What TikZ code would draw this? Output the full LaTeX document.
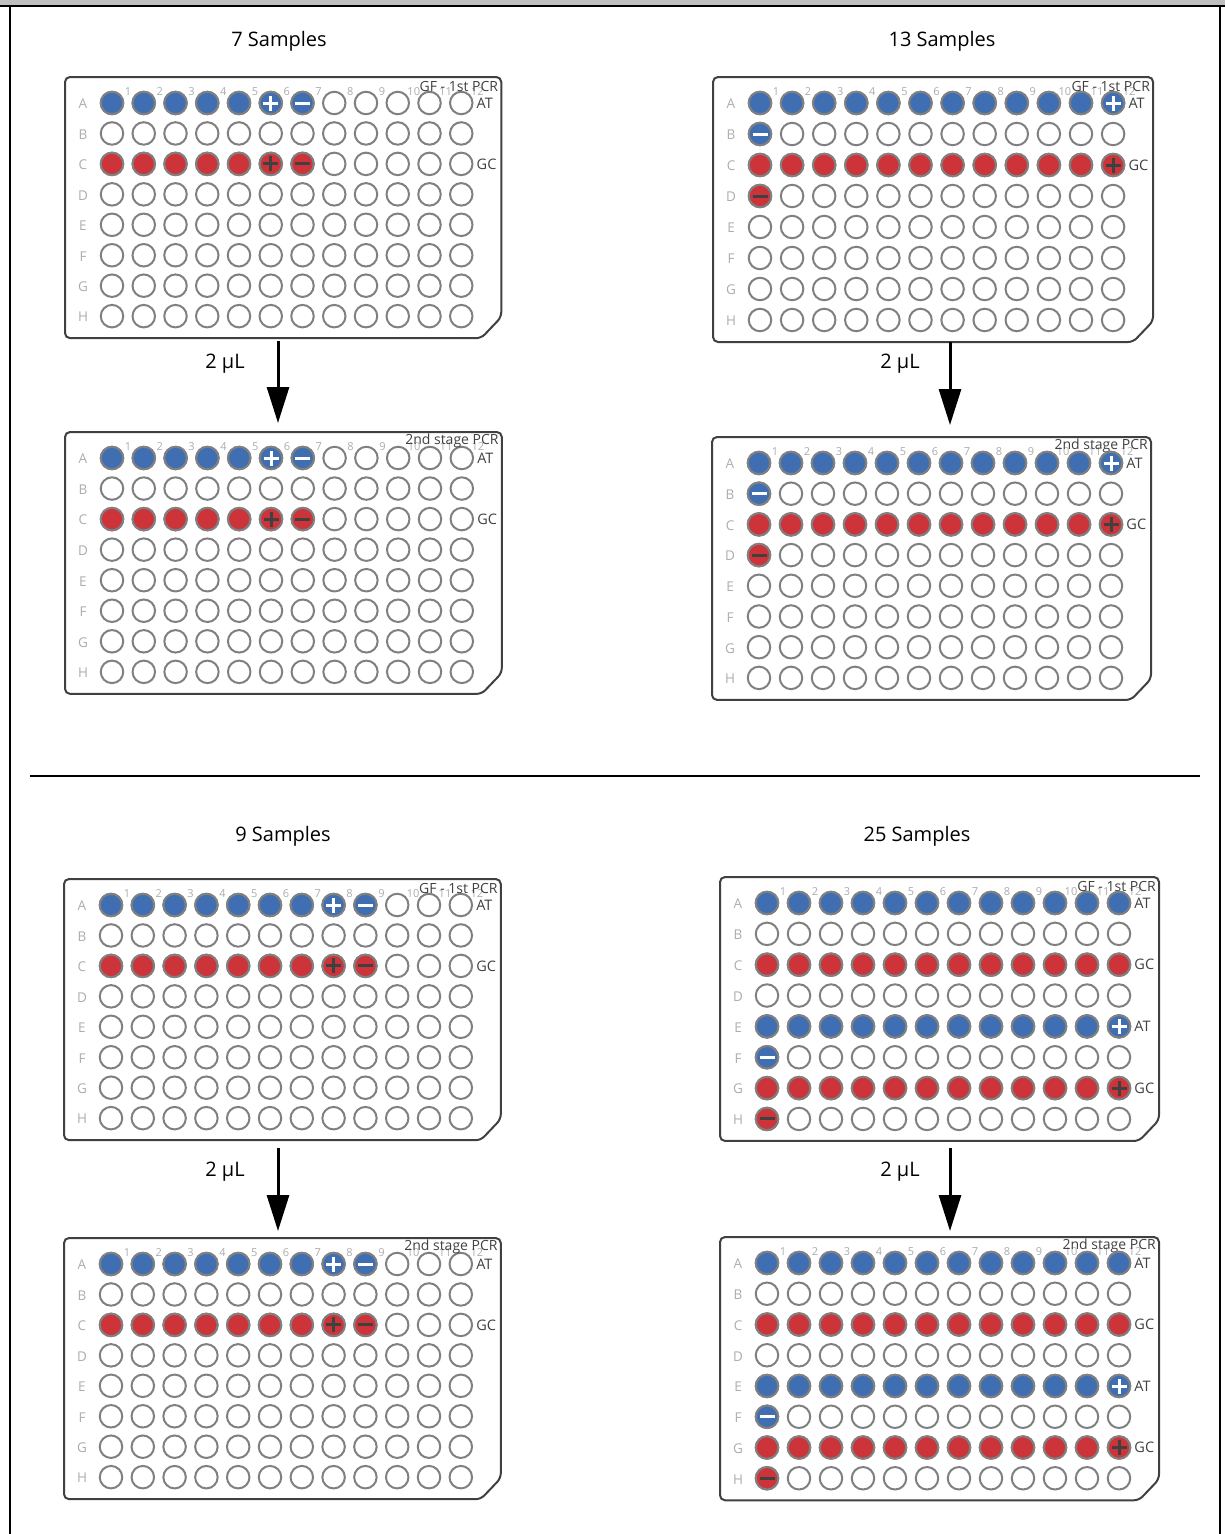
\documentclass[tikz,border=0pt]{standalone}
\usepackage{fontspec}
\setmainfont{Open Sans}
\usetikzlibrary{arrows.meta,positioning}
\definecolor{wellblue}{RGB}{64,110,178}
\definecolor{wellred}{RGB}{205,52,58}
\definecolor{wellrim}{RGB}{128,128,128}
\definecolor{platerim}{RGB}{64,64,64}
\definecolor{tagtext}{RGB}{172,172,172}
\definecolor{bandgray}{RGB}{191,191,191}

\tikzset{
  well/.style={circle, draw=wellrim, line width=2pt, fill=white, minimum size=22.5pt, inner sep=0pt},
  bluewell/.style={well, fill=wellblue},
  redwell/.style={well, fill=wellred},
  possign/.style={path picture={\draw[#1, line width=3pt]
      ([xshift=-7.5pt]path picture bounding box.center) -- ([xshift=7.5pt]path picture bounding box.center)
      ([yshift=-7.5pt]path picture bounding box.center) -- ([yshift=7.5pt]path picture bounding box.center);}},
  negsign/.style={path picture={\draw[#1, line width=3pt]
      ([xshift=-7.5pt]path picture bounding box.center) -- ([xshift=7.5pt]path picture bounding box.center);}},
  platebox/.style={draw=platerim, line width=2pt, rounded corners=5pt},
  platetitle/.style={text=platerim, font=\fontsize{14}{14}\selectfont, inner sep=0pt, anchor=east},
  rowtag/.style={text=tagtext, font=\fontsize{13.5}{13.5}\selectfont, inner sep=0pt},
  coltag/.style={text=tagtext, font=\fontsize{11}{11}\selectfont, inner sep=0pt},
  basetag/.style={text=platerim, font=\fontsize{14.5}{14.5}\selectfont, inner sep=0pt, anchor=west},
  heading/.style={font=\fontsize{20}{20}\selectfont, inner sep=0pt},
  voltag/.style={font=\fontsize{20}{20}\selectfont, inner sep=0pt},
  transfer/.style={line width=3pt, -{Triangle[length=36pt,width=22pt]}},
}

% one 96-well plate: name, A1 x, A1 y, column pitch, row pitch, title
\newcommand{\wellplate}[6]{%
  \begin{scope}[shift={(#2,#3)}]
    \pgfmathsetmacro{\rgt}{11*#4+40}
    \pgfmathsetmacro{\btm}{7*#5+22}
    \draw[platebox] (-47,100) -- (-47,-26) -- (\rgt,-26) -- (\rgt,{\btm-21})
      -- ({\rgt-20},\btm) -- (-47,\btm) -- cycle;
    \foreach \r [count=\i from 0] in {A,...,H} {
      \node[rowtag] (#1-row\r) at (-29,{\i*#5+1}) {\r};
      \foreach \c in {1,...,12}
        \node[well] (#1-\r\c) at ({(\c-1)*#4},{\i*#5}) {};
    }
    \foreach \c in {1,...,12}
      \node[coltag] (#1-col\c) at ({(\c-1)*#4+16},-11) {\c};
    \node[platetitle] (#1-title) at ({\rgt-3},-17) {#6};
  \end{scope}
}

\begin{document}
\begin{tikzpicture}[x=1pt, y=-1pt]
\useasboundingbox (0,0) rectangle (1225,1534);
% frame
\fill[bandgray] (0,0) rectangle (1225,6);
\draw[line width=2pt] (0,6) -- (1225,6);
\draw[line width=2pt] (10,6) -- (10,1534);
\draw[line width=2pt] (1220,6) -- (1220,1534);
\draw[line width=2.5pt] (30,776) -- (1200,776);

% headings
\node[heading] (h7) at (279,41) {7 Samples};
\node[heading] (h13) at (942,41) {13 Samples};
\node[heading] (h9) at (283,836) {9 Samples};
\node[heading] (h25) at (917,836) {25 Samples};

% plates
\wellplate{p1}{112}{103}{31.75}{30.45}{GF - 1st PCR}
\wellplate{p2}{112}{458}{31.8}{30.55}{2nd stage PCR}
\wellplate{p3}{760}{103}{32.1}{31}{GF - 1st PCR}
\wellplate{p4}{759}{463}{32}{30.7}{2nd stage PCR}
\wellplate{p5}{111}{905}{31.8}{30.45}{GF - 1st PCR}
\wellplate{p6}{111}{1264}{31.8}{30.45}{2nd stage PCR}
\wellplate{p7}{767}{903}{32}{30.85}{GF - 1st PCR}
\wellplate{p8}{767}{1263}{32}{30.75}{2nd stage PCR}

% 7 samples
\foreach \p in {p1,p2} {
  \foreach \c in {1,...,5} {
    \node[bluewell] (\p-A\c f) at (\p-A\c) {};
    \node[redwell] (\p-C\c f) at (\p-C\c) {};
  }
  \node[bluewell, possign=white] (\p-A6f) at (\p-A6) {};
  \node[bluewell, negsign=white] (\p-A7f) at (\p-A7) {};
  \node[redwell, possign=platerim] (\p-C6f) at (\p-C6) {};
  \node[redwell, negsign=platerim] (\p-C7f) at (\p-C7) {};
  \node[basetag, right=3pt of \p-A12] (\p-at) {AT};
  \node[basetag, right=3pt of \p-C12] (\p-gc) {GC};
}

% 13 samples
\foreach \p in {p3,p4} {
  \foreach \c in {1,...,11} {
    \node[bluewell] (\p-A\c f) at (\p-A\c) {};
    \node[redwell] (\p-C\c f) at (\p-C\c) {};
  }
  \node[bluewell, possign=white] (\p-A12f) at (\p-A12) {};
  \node[bluewell, negsign=white] (\p-B1f) at (\p-B1) {};
  \node[redwell, possign=platerim] (\p-C12f) at (\p-C12) {};
  \node[redwell, negsign=platerim] (\p-D1f) at (\p-D1) {};
  \node[basetag, right=3pt of \p-A12] (\p-at) {AT};
  \node[basetag, right=3pt of \p-C12] (\p-gc) {GC};
}

% 9 samples
\foreach \p in {p5,p6} {
  \foreach \c in {1,...,7} {
    \node[bluewell] (\p-A\c f) at (\p-A\c) {};
    \node[redwell] (\p-C\c f) at (\p-C\c) {};
  }
  \node[bluewell, possign=white] (\p-A8f) at (\p-A8) {};
  \node[bluewell, negsign=white] (\p-A9f) at (\p-A9) {};
  \node[redwell, possign=platerim] (\p-C8f) at (\p-C8) {};
  \node[redwell, negsign=platerim] (\p-C9f) at (\p-C9) {};
  \node[basetag, right=3pt of \p-A12] (\p-at) {AT};
  \node[basetag, right=3pt of \p-C12] (\p-gc) {GC};
}

% 25 samples
\foreach \p in {p7,p8} {
  \foreach \c in {1,...,12} {
    \node[bluewell] (\p-A\c f) at (\p-A\c) {};
    \node[redwell] (\p-C\c f) at (\p-C\c) {};
  }
  \foreach \c in {1,...,11} {
    \node[bluewell] (\p-E\c f) at (\p-E\c) {};
    \node[redwell] (\p-G\c f) at (\p-G\c) {};
  }
  \node[bluewell, possign=white] (\p-E12f) at (\p-E12) {};
  \node[bluewell, negsign=white] (\p-F1f) at (\p-F1) {};
  \node[redwell, possign=platerim] (\p-G12f) at (\p-G12) {};
  \node[redwell, negsign=platerim] (\p-H1f) at (\p-H1) {};
  \node[basetag, right=3pt of \p-A12] (\p-at) {AT};
  \node[basetag, right=3pt of \p-C12] (\p-gc) {GC};
  \node[basetag, right=3pt of \p-E12] (\p-at2) {AT};
  \node[basetag, right=3pt of \p-G12] (\p-gc2) {GC};
}

% transfers
\coordinate (t1s) at (278,341);  \coordinate (t1e) at (278,423);
\coordinate (t2s) at (950,342);  \coordinate (t2e) at (950,425);
\coordinate (t3s) at (278,1148); \coordinate (t3e) at (278,1231);
\coordinate (t4s) at (950,1148); \coordinate (t4e) at (950,1231);
\foreach \t in {t1,t2,t3,t4}
  \draw[transfer] (\t s) -- (\t e);
\node[voltag] (v1) at (225,364) {2 μL};
\node[voltag] (v2) at (900,364) {2 μL};
\node[voltag] (v3) at (225,1172) {2 μL};
\node[voltag] (v4) at (900,1172) {2 μL};
\end{tikzpicture}
\end{document}
